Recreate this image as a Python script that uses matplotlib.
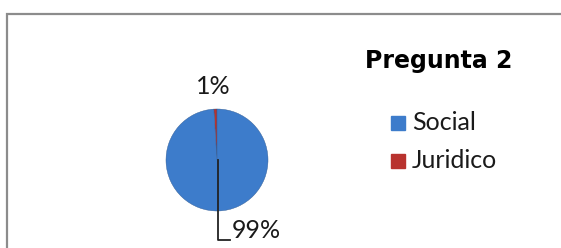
import matplotlib.pyplot as plt
from matplotlib.patches import Rectangle

labels = ["Juridico", "Social"]
values = [1, 99]
colors = ["#B8322E", "#3D7CCB"]
legend_order = ["Social", "Juridico"]
title = "Pregunta 2"

W, H = 561, 248
fig = plt.figure(figsize=(W / 100, H / 100), dpi=100)
ax = fig.add_axes([0, 0, 1, 1])

# outer frame (cut by image edges)
ax.add_patch(Rectangle((7, -10), 600, H - 14 + 10, fill=False, ec="#8c8c8c", lw=1.6))

cx, cy, r = 217, H - 160, 51
wedges, _ = ax.pie(values, colors=colors, startangle=90, counterclock=True,
                   center=(cx, cy), radius=r, frame=True,
                   wedgeprops=dict(ec="#2f5a92", lw=0.3))
ax.set_xlim(0, W)
ax.set_ylim(0, H)
ax.set_aspect("equal")
ax.axis("off")

pct = [f"{v / sum(values) * 100:.0f}%" for v in values]
ax.text(213, H - 87, pct[0], ha="center", va="center", fontsize=18,
        family="Lato", color="#1a1a1a")
# leader line for the big slice
ax.plot([cx + 1, cx + 1, 230], [cy, H - 240, H - 240], color="#222222", lw=1.3)
ax.text(232, H - 230, pct[1], ha="left", va="center", fontsize=18,
        family="Lato", color="#1a1a1a")

ax.text(365, H - 61, title, ha="left", va="center", fontsize=17,
        weight="bold", family="DejaVu Sans", color="black")

by = {"Social": H - 123, "Juridico": H - 161}
for name in legend_order:
    c = colors[labels.index(name)]
    y = by[name]
    ax.add_patch(Rectangle((391, y - 7), 14, 14, fc=c, ec=c))
    ax.text(412, y, name, ha="left", va="center", fontsize=18,
            family="Lato", color="#1a1a1a")

fig.savefig("out.png", dpi=100)
